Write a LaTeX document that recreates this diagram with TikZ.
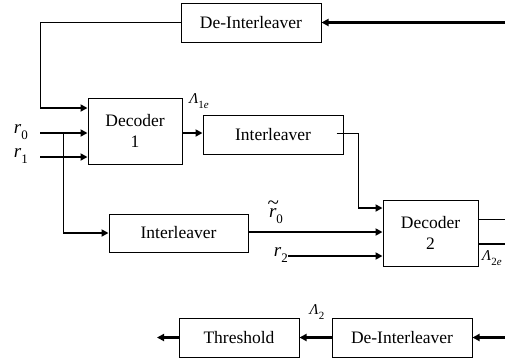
\documentclass[tikz,border=0pt]{standalone}
\usepackage{fontspec}
\setmainfont{Liberation Serif}
\usetikzlibrary{arrows.meta}
\newcommand{\mysub}[2][13]{\raisebox{-0.3em}{\fontsize{#1}{#1}\selectfont #2}}
\newcommand{\rtil}{\textit{r}\llap{\raisebox{0.42em}{\fontsize{21}{21}\selectfont\textasciitilde}\hspace{-2.5pt}}}
\begin{document}
\begin{tikzpicture}[x=1pt,y=-1pt,
  blk/.style={draw,line width=1pt,minimum width=#1,minimum height=39pt,inner sep=0pt,
    font=\fontsize{17.5}{21}\selectfont,align=center},
  blk/.default=140pt,
  thin/.style={line width=1pt},
  thick/.style={line width=2.2pt},
  arr/.style={-{Triangle[length=7pt,width=7pt]}},
  lbl/.style={inner sep=0pt,font=\fontsize{19}{20}\selectfont},
  slbl/.style={inner sep=0pt,font=\fontsize{15}{16}\selectfont}]
\useasboundingbox (0,0) rectangle (505,360);
% boxes
\node[blk=140pt] (deint1) at (251,22.5) {De-Interleaver};
\node[blk=94pt,minimum height=66pt] (dec1) at (135,131) {Decoder\\1};
\node[blk=140pt] (int1) at (273,134.5) {Interleaver};
\node[blk=139pt,minimum height=38pt] (int2) at (178.5,233) {Interleaver};
\node[blk=95pt,minimum height=66pt] (dec2) at (430.5,233) {Decoder\\2};
\node[blk=120pt] (thr) at (239,337.5) {Threshold};
\node[blk=140pt] (deint2) at (402,337.5) {De-Interleaver};
% free ends
\coordinate (inA) at (505,22.5);
\coordinate (fbc) at (40,22.5);
\coordinate (fbd) at (40,108);
\coordinate (r0s) at (40,133);
\coordinate (r1s) at (40,157);
\coordinate (br) at (63,133);
\coordinate (brd) at (63,233);
\coordinate (i1a) at (358,133);
\coordinate (i1b) at (358,208);
\coordinate (r2s) at (288,256);
\coordinate (o2a) at (505,219);
\coordinate (o2b) at (505,244);
\coordinate (inB) at (505,337.5);
\coordinate (outT) at (157,337.5);
% labels
\node[lbl,anchor=east,xshift=-12pt,yshift=1pt] (r0) at (r0s) {\textit{r}\mysub{0}};
\node[lbl,anchor=east,xshift=-12pt,yshift=1pt] (r1) at (r1s) {\textit{r}\mysub{1}};
\node[lbl,anchor=east,yshift=1pt] (r2) at (r2s) {\textit{r}\mysub{2}};
\node[lbl] (rt0) at (276,212) {\rtil\mysub{0}};
\node[slbl] (L1e) at (199,101) {\textit{Λ}\mysub[11]{1\textit{e}}};
\node[slbl,anchor=west] (L2e) at (482,258) {\textit{Λ}\mysub[11]{2\textit{e}}};
\node[slbl] (L2) at (317,312) {\textit{Λ}\mysub[11]{2}};
% connectors
\draw[thick,arr] (inA) -- (deint1.east);
\draw[thin] (deint1.west) -- (fbc) -- (fbd);
\draw[thick,arr] (fbd) -- (dec1.west |- fbd);
\draw[thick,arr] (r0s) -- (dec1.west |- r0s);
\draw[thick,arr] (r1s) -- (dec1.west |- r1s);
\draw[thin] (br) -- (brd);
\draw[thick,arr] (brd) -- (int2.west |- brd);
\draw[thick,arr] (dec1.east |- r0s) -- (int1.west |- r0s);
\draw[thin] ([xshift=-7pt]int1.east |- i1a) -- (i1a) -- (i1b);
\draw[thick,arr] (i1b) -- (dec2.west |- i1b);
\draw[thick,arr] (int2.east |- 0,232) -- (dec2.west |- 0,232);
\draw[thick,arr] (r2s) -- (dec2.west |- r2s);
\draw[thin] (dec2.east |- o2a) -- (o2a);
\draw[thick] (dec2.east |- o2b) -- (o2b);
\draw[thick,arr] (inB) -- (deint2.east);
\draw[thick,arr] (deint2.west) -- (thr.east);
\draw[thick,arr] (thr.west) -- (outT);
\end{tikzpicture}
\end{document}
